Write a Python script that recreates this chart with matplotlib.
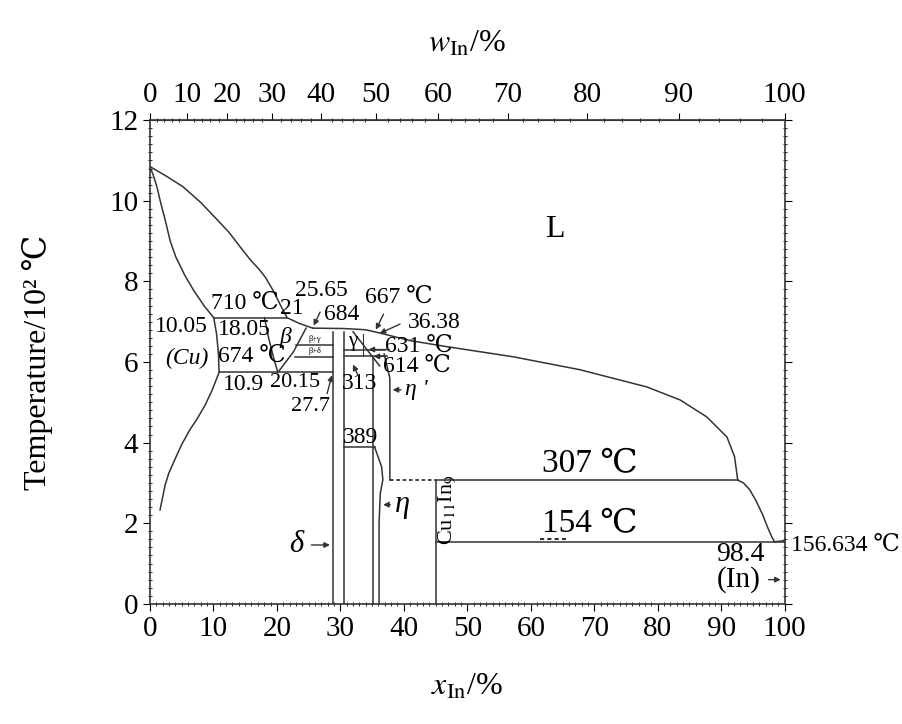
import numpy as np
import matplotlib
matplotlib.use("Agg")
import matplotlib.pyplot as plt
from matplotlib.ticker import MultipleLocator

plt.rcParams['font.family'] = ['Liberation Serif', 'DejaVu Serif', 'DejaVu Sans']
plt.rcParams['mathtext.fontset'] = 'stix'

# boundary lines, x = In at.%, T = degC
liq_cu_x = [0, 2.5, 5.2, 8.0, 10.6, 12.5, 14.2, 15.8, 17.2, 18.2, 19.5, 20.6, 21.6, 23.5, 25.65]
liq_cu_t = [1085, 1062, 1035, 996, 953, 921, 886, 854, 830, 810, 775, 740, 710, 696, 684]
liq_mid_x = [25.65, 30.6, 34.0, 36.2, 41.0, 46.8, 57.2, 67.7, 78.3, 83.5, 87.7, 90.9, 92.1, 92.6]
liq_mid_t = [684, 683, 680, 672, 653, 638, 613, 581, 538, 506, 464, 414, 365, 307]
liq_in_x = [92.6, 93.5, 94.5, 95.5, 96.5, 97.3, 98.0, 98.4]
liq_in_t = [307, 300, 283, 255, 222, 190, 165, 154]

sol_cu_x = [0, 0.5, 1.1, 1.7, 2.4, 3.2, 4.1, 5.5, 7.0, 8.6, 10.05]
sol_cu_t = [1085, 1065, 1035, 995, 953, 900, 860, 815, 775, 738, 710]
solv_cu_x = [10.05, 10.5, 10.8, 10.9, 9.8, 8.7, 7.4, 6.3, 5.0, 3.9, 3.0, 2.4, 1.6]
solv_cu_t = [710, 670, 620, 574, 530, 493, 458, 432, 395, 357, 325, 295, 233]

beta_l_x = [18.05, 18.7, 19.5, 20.15]
beta_l_t = [710, 660, 610, 574]
beta_r_x = [20.15, 22.6, 24.6]
beta_r_t = [574, 625, 684]

eta_l_x = [35.4, 36.5, 36.7, 36.3, 36.1, 36.1]
eta_l_t = [389, 340, 308, 275, 200, 0]
eta_r_x = [37.8, 37.8, 36.9]
eta_r_t = [307, 560, 620]

# horizontal invariants: (x_start, x_end, T)
isotherms = [(10.05, 21.6, 710), (10.9, 28.8, 574), (30.6, 35.4, 389),
             (45.0, 92.6, 307), (45.0, 100.0, 154)]
# vertical lines: (x, T_low, T_high)
verticals = [(28.8, 0, 675), (30.6, 0, 675), (35.2, 0, 610), (45.0, 0, 307)]

fig = plt.figure(figsize=(9.03, 7.24), dpi=100)
ax = fig.add_axes([0.166, 0.166, 0.703, 0.668])

lw = 1.1
c = '#333333'
ax.plot(liq_cu_x, np.array(liq_cu_t) / 100, color=c, lw=lw)
ax.plot(liq_mid_x, np.array(liq_mid_t) / 100, color=c, lw=lw)
ax.plot(liq_in_x, np.array(liq_in_t) / 100, color=c, lw=lw)
ax.plot([98.4, 100], [1.54, 1.566], color=c, lw=lw)
ax.plot(sol_cu_x, np.array(sol_cu_t) / 100, color=c, lw=lw)
ax.plot(solv_cu_x, np.array(solv_cu_t) / 100, color=c, lw=lw)
ax.plot(beta_l_x, np.array(beta_l_t) / 100, color=c, lw=lw)
ax.plot(beta_r_x, np.array(beta_r_t) / 100, color=c, lw=lw)
ax.plot(eta_l_x, np.array(eta_l_t) / 100, color=c, lw=lw)
ax.plot(eta_r_x, np.array(eta_r_t) / 100, color=c, lw=lw)

for x0, x1, t in isotherms:
    ax.plot([x0, x1], [t / 100, t / 100], color=c, lw=lw)
ax.plot([37.8, 45.0], [3.07, 3.07], color=c, lw=1.3, ls=(0, (2, 1.5)))
ax.plot([61.5, 65.5], [1.6, 1.6], color=c, lw=1.5, ls=(0, (2, 1.5)))
for x, t0, t1 in verticals:
    ax.plot([x, x], [t0 / 100, t1 / 100], color=c, lw=lw)

# small region box between beta and gamma
ax.plot([23.0, 28.8], [6.43, 6.43], color=c, lw=lw)
ax.plot([22.8, 28.8], [6.13, 6.13], color=c, lw=lw)
ax.plot([30.6, 37.0], [6.31, 6.31], color=c, lw=lw)
ax.plot([30.6, 37.3], [6.14, 6.14], color=c, lw=lw)
ax.plot([32.0, 36.2], [6.75, 5.9], color=c, lw=lw)
ax.plot([33.6, 33.6], [6.14, 6.7], color=c, lw=0.8)
ax.text(26.0, 6.56, 'β+γ', fontsize=6, ha='center', va='center')
ax.text(26.0, 6.28, 'β+δ', fontsize=6, ha='center', va='center')
ax.text(32.0, 6.5, 'γ', fontsize=15, ha='center', va='center')

# labels
fs = 17
ax.text(63.8, 9.28, 'L', fontsize=23, ha='center', va='center')
ax.text(15.0, 7.45, '710 ℃', fontsize=fs, ha='center', va='center')
ax.text(22.3, 7.32, '21', fontsize=fs, ha='center', va='center')
ax.text(27.0, 7.78, '25.65', fontsize=fs, ha='center', va='center')
ax.text(30.2, 7.17, '684', fontsize=fs, ha='center', va='center')
ax.text(39.2, 7.6, '667 ℃', fontsize=fs, ha='center', va='center')
ax.text(44.8, 6.97, '36.38', fontsize=fs, ha='center', va='center')
ax.text(42.4, 6.4, '631 ℃', fontsize=fs, ha='center', va='center')
ax.text(42.0, 5.9, '614 ℃', fontsize=fs, ha='center', va='center')
ax.text(33.1, 5.46, '313', fontsize=fs, ha='center', va='center')
ax.text(33.1, 4.12, '389', fontsize=fs, ha='center', va='center')
ax.text(5.0, 6.87, '10.05', fontsize=fs, ha='center', va='center')
ax.text(14.9, 6.8, '18.05', fontsize=fs, ha='center', va='center')
ax.text(21.3, 6.6, 'β', fontsize=fs, ha='center', va='center', style='italic')
ax.text(5.8, 6.1, '(Cu)', fontsize=fs, ha='center', va='center', style='italic')
ax.text(16.0, 6.13, '674 ℃', fontsize=fs, ha='center', va='center')
ax.text(14.8, 5.45, '10.9', fontsize=fs, ha='center', va='center')
ax.text(22.9, 5.48, '20.15', fontsize=16, ha='center', va='center')
ax.text(25.3, 4.9, '27.7', fontsize=16, ha='center', va='center')
ax.text(69.3, 3.47, '307 ℃', fontsize=24, ha='center', va='center')
ax.text(69.3, 1.98, '154 ℃', fontsize=24, ha='center', va='center')
ax.text(93.0, 1.22, '98.4', fontsize=20, ha='center', va='center')
ax.text(101.0, 1.46, '156.634 ℃', fontsize=fs, ha='left', va='center', clip_on=False)
ax.text(92.8, 0.6, '(In)', fontsize=21, ha='center', va='center')
ax.text(23.1, 1.46, 'δ', fontsize=22, ha='center', va='center', style='italic')
ax.text(39.8, 2.46, 'η', fontsize=22, ha='center', va='center', style='italic')
ax.text(42.0, 5.31, "η '", fontsize=fs, ha='center', va='center', style='italic')
ax.text(46.9, 2.35, r'Cu$_{11}$In$_9$', fontsize=16, ha='center', va='center', rotation=90)

arrow = dict(arrowstyle='-|>', color=c, lw=1.0, mutation_scale=8)
ax.annotate('', xy=(28.8, 1.46), xytext=(25.0, 1.46), arrowprops=arrow)
ax.annotate('', xy=(36.3, 2.46), xytext=(38.3, 2.46), arrowprops=arrow)
ax.annotate('', xy=(37.8, 5.31), xytext=(40.0, 5.31), arrowprops=arrow)
ax.annotate('', xy=(99.8, 0.6), xytext=(97.0, 0.6), arrowprops=arrow)
ax.annotate('', xy=(25.6, 6.84), xytext=(27.0, 7.3), arrowprops=arrow)
ax.annotate('', xy=(35.4, 6.74), xytext=(37.0, 7.25), arrowprops=arrow)
ax.annotate('', xy=(35.8, 6.68), xytext=(39.8, 6.97), arrowprops=arrow)
ax.annotate('', xy=(34.0, 6.31), xytext=(38.2, 6.31), arrowprops=arrow)
ax.annotate('', xy=(34.8, 6.14), xytext=(37.6, 6.14), arrowprops=arrow)
ax.annotate('', xy=(31.8, 6.0), xytext=(33.0, 5.6), arrowprops=arrow)
ax.annotate('', xy=(28.8, 5.74), xytext=(27.8, 5.15), arrowprops=arrow)

ax.set_xlim(0, 100)
ax.set_ylim(0, 12)
ax.xaxis.set_major_locator(MultipleLocator(10))
ax.xaxis.set_minor_locator(MultipleLocator(1))
ax.yaxis.set_major_locator(MultipleLocator(2))
ax.yaxis.set_minor_locator(MultipleLocator(0.2))
ax.tick_params(which='major', direction='out', length=5, labelsize=21, right=True)
ax.tick_params(which='minor', direction='inout', length=3, right=True)
ax.tick_params(axis='y', which='both', labelright=False)
for sp in ax.spines.values():
    sp.set_color(c)
    sp.set_linewidth(1.2)

M_CU, M_IN = 63.546, 114.82


def x_to_w(x):
    x = np.clip(np.asarray(x, dtype=float), 0, 100) / 100
    return 100 * x * M_IN / (x * M_IN + (1 - x) * M_CU)


def w_to_x(w):
    w = np.clip(np.asarray(w, dtype=float), 0, 100) / 100
    return 100 * (w / M_IN) / (w / M_IN + (1 - w) / M_CU)


top = ax.secondary_xaxis('top', functions=(x_to_w, w_to_x))
top.set_xticks([0, 10, 20, 30, 40, 50, 60, 70, 80, 90, 100])
top.xaxis.set_minor_locator(MultipleLocator(2))
top.tick_params(which='major', direction='out', length=5, labelsize=21)
top.tick_params(which='minor', direction='inout', length=3)
top.spines['top'].set_color(c)

ax.set_ylabel('Temperature/10² ℃', fontsize=23, labelpad=40)
ax.set_xlabel('$x_{\\mathrm{In}}$/%', fontsize=23, labelpad=22)
top.set_xlabel('$w_{\\mathrm{In}}$/%', fontsize=23, labelpad=22)

fig.savefig('out.png', dpi=100)
